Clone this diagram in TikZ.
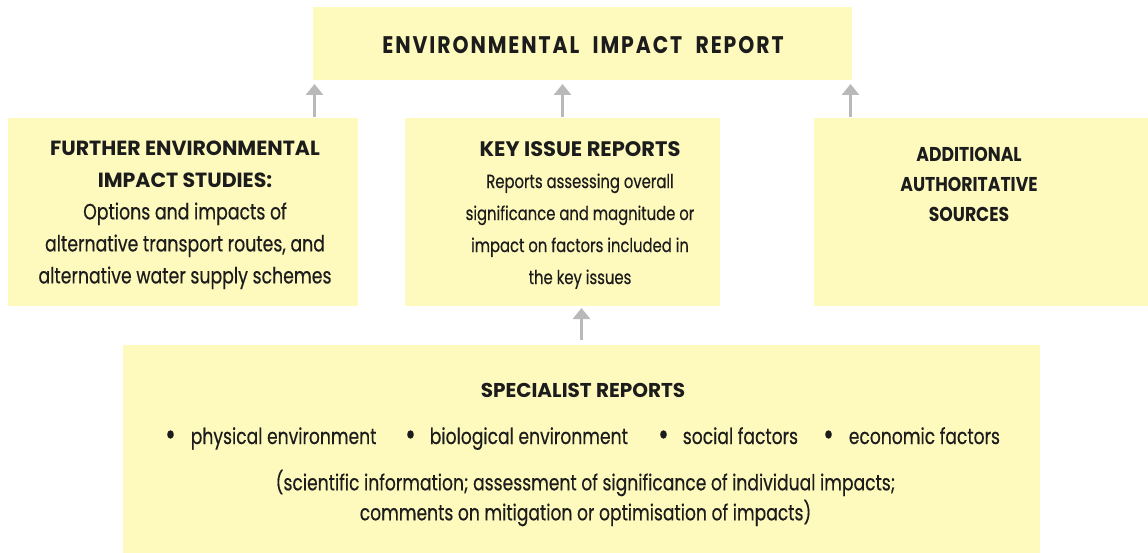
\documentclass[tikz,border=0pt]{standalone}
\usepackage{fontspec}
\usepackage{graphicx}
\setmainfont{Poppins}[FakeStretch=0.78,FakeBold=0.4]
\newfontfamily\headfont{Poppins}[FakeStretch=1.0]
\newfontfamily\sidefont{Poppins}[FakeStretch=0.86]
\newfontfamily\titlefont{Poppins}[FakeStretch=0.85,LetterSpace=8]
\usetikzlibrary{arrows.meta}
\definecolor{boxfill}{HTML}{FEFABE}
\definecolor{arrowgray}{HTML}{B9B9B9}
\definecolor{ink}{HTML}{1C1C1C}
\newcommand{\dotmark}{\raisebox{-1.5pt}{\scalebox{1.5}{\textbullet}}}
\tikzset{
  panel/.style={fill=boxfill,draw=none,inner sep=0pt,outer sep=0pt},
  bodytext/.style={text=ink,align=center,inner sep=0pt},
  listitem/.style={text=ink,inner sep=0pt,anchor=base west,font=\fontsize{22}{24}\selectfont},
  uparrow/.style={draw=arrowgray,line width=3pt,-{Triangle[width=17pt,length=11pt]}},
}
\begin{document}
\begin{tikzpicture}[x=1pt,y=-1pt]
\useasboundingbox (0,0) rectangle (1148,553);
% boxes
\node[panel,minimum width=539pt,minimum height=73pt] (top) at (582.5,43.5) {};
\node[panel,minimum width=350pt,minimum height=188pt] (lft) at (183,212) {};
\node[panel,minimum width=315pt,minimum height=188pt] (mid) at (562.5,212) {};
\node[panel,minimum width=334pt,minimum height=188pt] (rgt) at (981,212) {};
\node[panel,minimum width=917pt,minimum height=208pt] (bot) at (581.5,449) {};
% texts
\node[text=ink,inner sep=0pt,font=\titlefont\bfseries\fontsize{24}{26}\selectfont] (ttl) at (583,45) {ENVIRONMENTAL\hspace{7pt} IMPACT\hspace{7pt} REPORT};
\node[bodytext,font=\fontsize{22.2}{32}\selectfont] (lfttxt) at (185,215) {{\headfont\bfseries\fontsize{20.5}{32}\selectfont FURTHER ENVIRONMENTAL}\\{\headfont\bfseries\fontsize{20.5}{32}\selectfont IMPACT STUDIES:}\\Options and impacts of\\alternative transport routes, and\\alternative water supply schemes};
\node[bodytext,font=\fontsize{19}{32}\selectfont] (midtxt) at (580,215) {{\headfont\bfseries\fontsize{21}{32}\selectfont KEY ISSUE REPORTS}\\Reports assessing overall\\significance and magnitude or\\impact on factors included in\\the key issues};
\node[bodytext,font=\sidefont\bfseries\fontsize{20}{30}\selectfont] (rgttxt) at (969,184) {ADDITIONAL\\AUTHORITATIVE\\SOURCES};
\node[bodytext,font=\headfont\bfseries\fontsize{20}{24}\selectfont] (bothead) at (583,390) {SPECIALIST REPORTS};
\node[listitem] (b1) at (165,444) {\dotmark\hspace{15pt}physical environment};
\node[listitem] (b2) at (405,444) {\dotmark\hspace{14pt}biological environment};
\node[listitem] (b3) at (658,444) {\dotmark\hspace{14pt}social factors};
\node[listitem] (b4) at (823,444) {\dotmark\hspace{15pt}economic factors};
\node[bodytext,font=\fontsize{22}{30}\selectfont] (botnote) at (585.5,498) {(scientific information; assessment of significance of individual impacts;\\comments on mitigation or optimisation of impacts)};
% arrows
\draw[uparrow,shorten <=1pt,shorten >=4pt] ([xshift=1.5pt]top.south west |- lft.north) -- ([xshift=1.5pt]top.south west);
\draw[uparrow,shorten <=1pt,shorten >=4pt] (mid.north) -- (mid.north |- top.south);
\draw[uparrow,shorten <=1pt,shorten >=4pt] ([xshift=-1.5pt]top.south east |- rgt.north) -- ([xshift=-1.5pt]top.south east);
\draw[uparrow,shorten <=5pt,shorten >=2pt] (bot.north) -- (bot.north |- mid.south);
\end{tikzpicture}
\end{document}
